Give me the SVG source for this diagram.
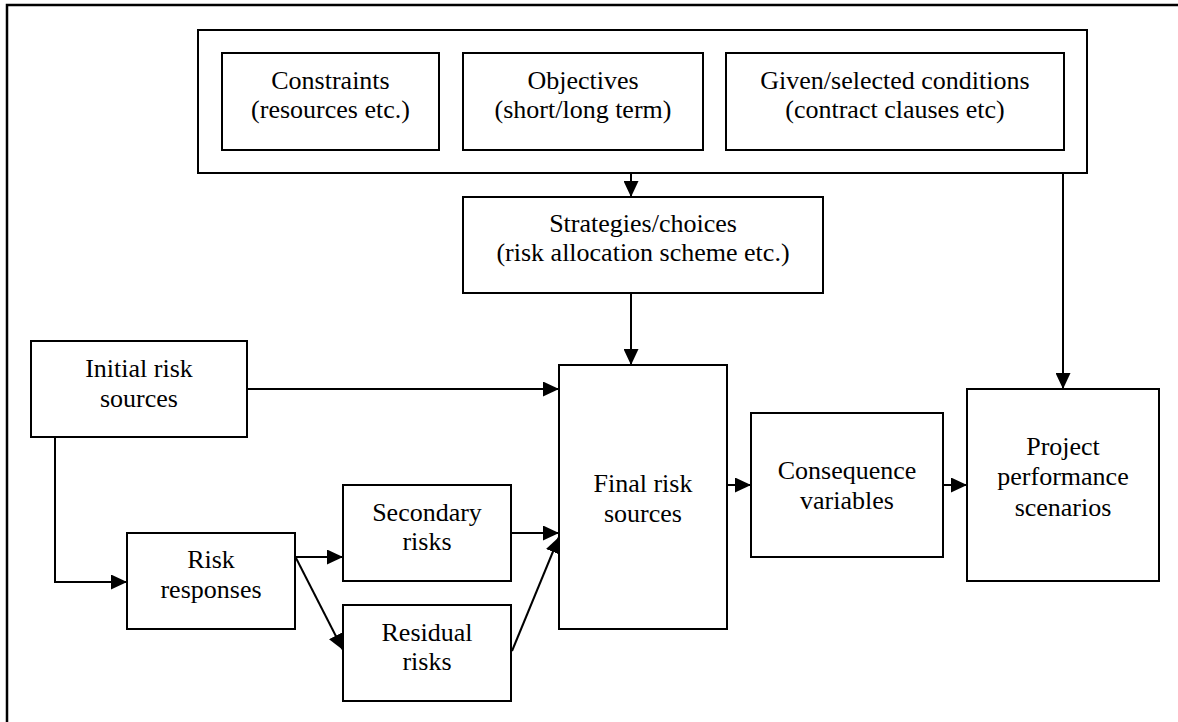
<svg xmlns="http://www.w3.org/2000/svg" width="1178" height="722" viewBox="0 0 1178 722">
<style>
.box{fill:#fff;stroke:#000;stroke-width:2}
.frame{fill:none;stroke:#000;stroke-width:2.5}
.t{font-family:'Liberation Serif','DejaVu Serif','Noto Serif','Times New Roman',Times,serif;font-size:26px;fill:#000;text-anchor:middle}
.c{fill:none;stroke:#000;stroke-width:2}
</style>
<defs>
<marker id="ah" markerUnits="userSpaceOnUse" markerWidth="16" markerHeight="15" refX="16" refY="7.5" orient="auto">
<path d="M0,0 L16,7.5 L0,15 z" fill="#000"/>
</marker>
</defs>
<rect width="1178" height="722" fill="#fff"/>
<path class="frame" d="M7,740 L7,5 L1200,5"/>
<g id="context">
<rect class="box" x="198" y="30" width="889" height="143"/>
</g>
<g font-family="Liberation Serif, DejaVu Serif, serif">
<g id="constraints">
<rect class="box" x="222" y="53" width="217" height="97"/>
<text class="t" x="330.5" y="89">Constraints</text>
<text class="t" x="330.5" y="118">(resources etc.)</text>
</g>
<g id="objectives">
<rect class="box" x="463" y="53" width="240" height="97"/>
<text class="t" x="583" y="89">Objectives</text>
<text class="t" x="583" y="118">(short/long term)</text>
</g>
<g id="conditions">
<rect class="box" x="726" y="53" width="338" height="97"/>
<text class="t" x="895" y="89">Given/selected conditions</text>
<text class="t" x="895" y="118">(contract clauses etc)</text>
</g>
<g id="strategies">
<rect class="box" x="463" y="197" width="360" height="96"/>
<text class="t" x="643" y="232">Strategies/choices</text>
<text class="t" x="643" y="261">(risk allocation scheme etc.)</text>
</g>
<g id="initial">
<rect class="box" x="31" y="341" width="216" height="96"/>
<text class="t" x="139" y="377">Initial risk</text>
<text class="t" x="139" y="407">sources</text>
</g>
<g id="responses">
<rect class="box" x="127" y="533" width="168" height="96"/>
<text class="t" x="211" y="568">Risk</text>
<text class="t" x="211" y="598">responses</text>
</g>
<g id="secondary">
<rect class="box" x="343" y="485" width="168" height="96"/>
<text class="t" x="427" y="521">Secondary</text>
<text class="t" x="427" y="550">risks</text>
</g>
<g id="residual">
<rect class="box" x="343" y="605" width="168" height="96"/>
<text class="t" x="427" y="641">Residual</text>
<text class="t" x="427" y="670">risks</text>
</g>
<g id="final">
<rect class="box" x="559" y="365" width="168" height="264"/>
<text class="t" x="643" y="492">Final risk</text>
<text class="t" x="643" y="522">sources</text>
</g>
<g id="consequence">
<rect class="box" x="751" y="413" width="192" height="144"/>
<text class="t" x="847" y="479">Consequence</text>
<text class="t" x="847" y="509">variables</text>
</g>
<g id="project">
<rect class="box" x="967" y="389" width="192" height="192"/>
<text class="t" x="1063" y="455">Project</text>
<text class="t" x="1063" y="485">performance</text>
<text class="t" x="1063" y="516">scenarios</text>
</g>
</g>
<g id="connectors">
<path class="c" d="M631,173 L631,197" marker-end="url(#ah)"/>
<path class="c" d="M1063,173 L1063,389" marker-end="url(#ah)"/>
<path class="c" d="M631,293 L631,365" marker-end="url(#ah)"/>
<path class="c" d="M247,389 L559,389" marker-end="url(#ah)"/>
<path class="c" d="M55,437 L55,582 L127,582" marker-end="url(#ah)"/>
<path class="c" d="M295,557 L343,557" marker-end="url(#ah)"/>
<path class="c" d="M296,558 L343,650" marker-end="url(#ah)"/>
<path class="c" d="M511,533 L559,533" marker-end="url(#ah)"/>
<path class="c" d="M512,651 L559,537" marker-end="url(#ah)"/>
<path class="c" d="M727,485 L751,485" marker-end="url(#ah)"/>
<path class="c" d="M943,485 L967,485" marker-end="url(#ah)"/>
</g>
</svg>
